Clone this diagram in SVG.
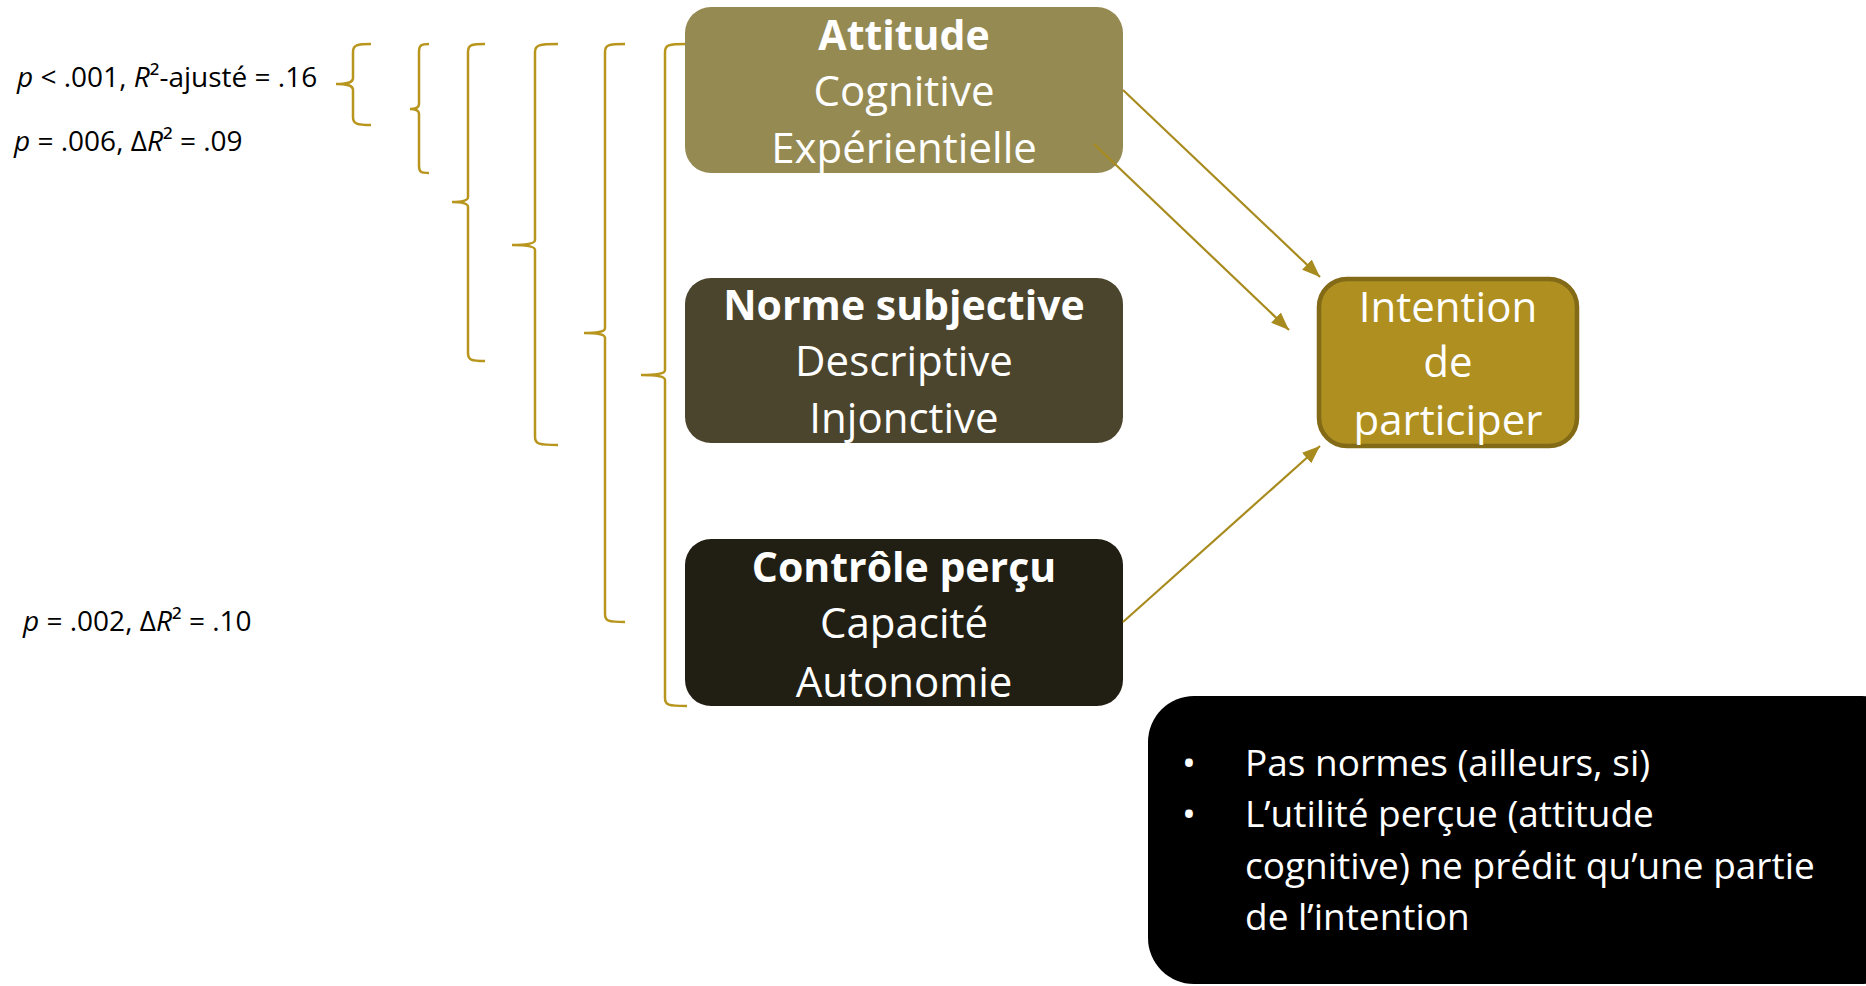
<svg xmlns="http://www.w3.org/2000/svg" width="1866" height="986" viewBox="0 0 1866 986">
<style>
.lbl{font-family:"Open Sans","Liberation Sans",sans-serif;font-size:28px;fill:#000}
.bx{font-family:"Open Sans","Liberation Sans",sans-serif;font-size:42px;fill:#fff;text-anchor:middle}
.b{font-weight:bold;font-size:41px}
.brace{fill:none;stroke:#B8961E;stroke-width:2.5}
.conn{fill:none;stroke:#A88B1E;stroke-width:2.2}
.note{font-family:"Open Sans","Liberation Sans",sans-serif;font-size:37px;fill:#fff}
</style>
<defs>
<marker id="arrow" viewBox="0 0 18 14" refX="18" refY="7" markerWidth="18" markerHeight="14" markerUnits="userSpaceOnUse" orient="auto">
<path d="M0,0 L18,7 L0,14 z" fill="#A88B1E"/>
</marker>
</defs>
<rect width="1866" height="986" fill="#fff"/>

<g id="labels">
<text class="lbl" x="17" y="87"><tspan font-style="italic">p</tspan> &lt; .001, <tspan font-style="italic">R</tspan>²-ajusté = .16</text>
<text class="lbl" x="14" y="151"><tspan font-style="italic">p</tspan> = .006, Δ<tspan font-style="italic">R</tspan>² = .09</text>
<text class="lbl" x="23" y="631"><tspan font-style="italic">p</tspan> = .002, Δ<tspan font-style="italic">R</tspan>² = .10</text>
</g>

<g id="braces">
<path class="brace" d="M371,44 C357,44 353,45 353,52 L353,78 C353,82 349,84 336,84 C349,84 353,86 353,90 L353,117 C353,124 357,125 371,125"/>
<path class="brace" d="M429,44 C421,44 419,45 419,52 L419,104 C419,107 416,109 410,109 C416,109 419,111 419,114 L419,166 C419,172 421,173 429,173"/>
<path class="brace" d="M485,44 C471,44 468,45 468,52 L468,197 C468,200 464,202 452,202 C464,202 468,204 468,207 L468,353 C468,360 471,361 485,361"/>
<path class="brace" d="M558,44 C539,44 535,45 535,52 L535,240 C535,243 530,245 512,245 C530,245 535,247 535,250 L535,437 C535,444 539,445 558,445"/>
<path class="brace" d="M625,44 C608,44 605,45 605,52 L605,328 C605,331 601,333 584,333 C601,333 605,335 605,338 L605,614 C605,621 608,622 625,622"/>
<path class="brace" d="M687,44 C668,44 665,45 665,52 L665,370 C665,373 660,375 641,375 C660,375 665,377 665,380 L665,698 C665,705 668,706 687,706"/>
</g>

<g id="node-attitude">
<rect x="685" y="7" width="438" height="166" rx="26" fill="#968A53"/>
<text class="bx b" x="904" y="50">Attitude</text>
<text class="bx" x="904" y="106">Cognitive</text>
<text class="bx" x="904" y="163">Expérientielle</text>
</g>

<g id="node-norme">
<rect x="685" y="278" width="438" height="165" rx="26" fill="#4B452D"/>
<text class="bx b" x="904" y="320">Norme subjective</text>
<text class="bx" x="904" y="376">Descriptive</text>
<text class="bx" x="904" y="433">Injonctive</text>
</g>

<g id="node-controle">
<rect x="685" y="539" width="438" height="167" rx="26" fill="#211F14"/>
<text class="bx b" x="904" y="582">Contrôle perçu</text>
<text class="bx" x="904" y="638">Capacité</text>
<text class="bx" x="904" y="697">Autonomie</text>
</g>

<g id="node-intention">
<rect x="1319" y="279" width="258" height="167" rx="28" fill="#AE8F20" stroke="#836A16" stroke-width="4.5"/>
<text class="bx" x="1448" y="322">Intention</text>
<text class="bx" x="1448" y="377">de</text>
<text class="bx" x="1448" y="435">participer</text>
</g>

<g id="connectors">
<line class="conn" x1="1123" y1="90" x2="1320" y2="277" marker-end="url(#arrow)"/>
<line class="conn" x1="1094" y1="144" x2="1289" y2="330" marker-end="url(#arrow)"/>
<line class="conn" x1="1123" y1="622" x2="1320" y2="446" marker-end="url(#arrow)"/>
</g>

<g id="node-note">
<rect x="1148" y="696" width="760" height="288" rx="46" fill="#000"/>
<text class="note" y="776"><tspan x="1182">•</tspan><tspan x="1245">Pas normes (ailleurs, si)</tspan></text>
<text class="note" y="827"><tspan x="1182">•</tspan><tspan x="1245">L’utilité perçue (attitude</tspan></text>
<text class="note" x="1245" y="879">cognitive) ne prédit qu’une partie</text>
<text class="note" x="1245" y="930">de l’intention</text>
</g>
</svg>
